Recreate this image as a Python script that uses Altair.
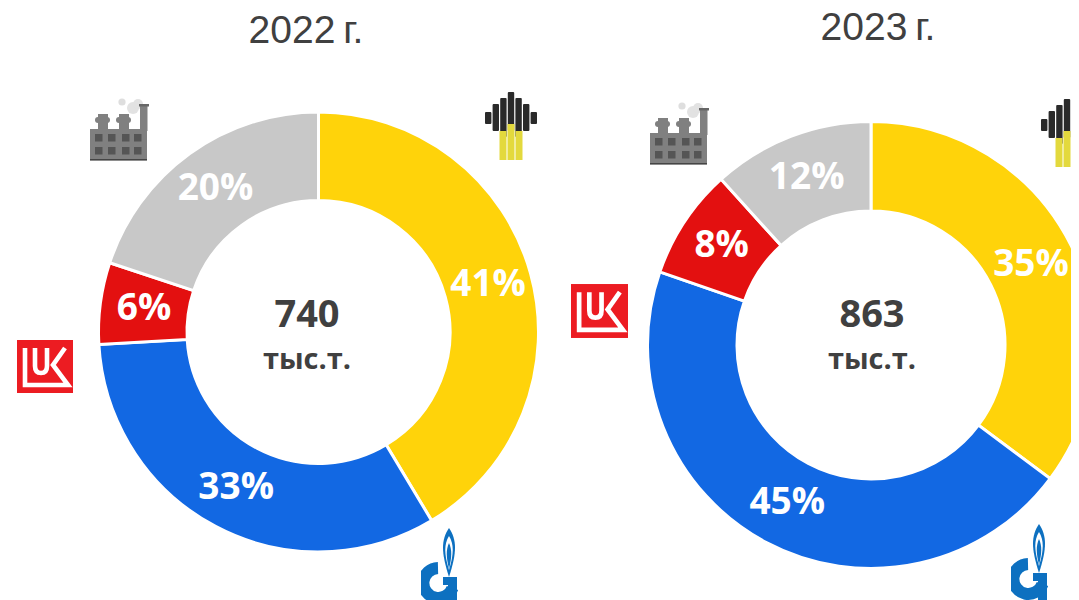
import base64
import math
import altair as alt
import pandas as pd

producers = ["Роснефть", "Газпром", "Лукойл", "Прочие"]
colors = ["#FFD30A", "#1268E3", "#E31010", "#C8C8C8"]
order = [1, 2, 3, 4]
shares_2022 = [41.4, 32.7, 6.0, 19.9]
labels_2022 = ["41%", "33%", "6%", "20%"]
shares_2023 = [35.2, 45.1, 8.0, 11.7]
labels_2023 = ["35%", "45%", "8%", "12%"]

OFF = 8
TEXT = "#404040"
FONT = "Open Sans"


def svg_uri(w, h, body):
    svg = (f'<svg xmlns="http://www.w3.org/2000/svg" width="{w}" height="{h}" viewBox="0 0 {w} {h}">'
           '<defs><filter id="b" x="-5%" y="-5%" width="110%" height="110%"><feGaussianBlur stdDeviation="0.5"/></filter></defs>'
           f'<g filter="url(#b)">{body}</g></svg>')
    return "data:image/svg+xml;base64," + base64.b64encode(svg.encode()).decode()


factory_body = (
    '<circle cx="34" cy="7" r="3.6" fill="#dedede"/><circle cx="45" cy="13" r="6" fill="#e2e2e2"/>'
    '<circle cx="50" cy="9" r="5" fill="#e2e2e2"/>'
    '<rect x="52" y="10" width="7.5" height="26" fill="#808080"/><rect x="51" y="9" width="10" height="2.5" fill="#666"/>'
    '<rect x="10" y="19" width="10" height="16" fill="#808080"/><rect x="7" y="22" width="15" height="6" rx="3" fill="#808080"/>'
    '<rect x="31" y="19" width="10" height="16" fill="#808080"/><rect x="28" y="22" width="15" height="6" rx="3" fill="#808080"/>'
    '<rect x="2" y="34" width="57" height="31" fill="#808080"/><rect x="2" y="64" width="57" height="1.6" fill="#444"/>'
    + "".join(f'<rect x="{x}" y="{y}" width="7.5" height="7.5" fill="#555"/>'
              for x in (7, 20, 34, 46) for y in (39, 52))
)
rosneft_body = (
    "".join(f'<rect x="{x}" y="{t}" width="6.4" height="{b - t}" rx="1" fill="#2a2a2a"/>'
            for x, t, b in [(0, 21, 33), (7.6, 13, 40), (15.2, 7, 46), (22.8, 1, 40), (30.4, 7, 46), (38, 13, 40), (45.6, 21, 33)])
    + "".join(f'<rect x="{x}" y="{t}" width="{w}" height="{69 - t}" fill="#E3D93C"/>'
              for x, t, w in [(14.5, 40, 7), (22.5, 33, 7), (30.5, 40, 7)])
)
luk_body = (
    '<rect width="56" height="53" fill="#EC1C24"/>'
    '<path d="M8 8V45H51L36 25L48 8M18 8V26Q18 33 24 33Q30 33 30 26V8" fill="none" stroke="#fff" stroke-width="4.6"/>'
)
gazprom_body = (
    '<path d="M33 2C25 14 25 26 33 51C41 26 41 14 33 2Z" fill="#0A6FC0"/>'
    '<path d="M33 10C28 18 28 28 33 44C38 28 38 18 33 10Z" fill="#fff"/>'
    '<path d="M33 17C30 24 30 30 33 43C36 30 36 24 33 17Z" fill="#0A6FC0"/>'
    '<path d="M22 42A15 15 0 1 0 36.5 62" fill="none" stroke="#0A6FC0" stroke-width="12"/>'
    '<rect x="27" y="51" width="14" height="8" fill="#0A6FC0"/><rect x="32" y="51" width="9" height="29" fill="#0A6FC0"/>'
)
factory_uri = svg_uri(62, 67, factory_body)
rosneft_uri = svg_uri(52, 69, rosneft_body)
luk_uri = svg_uri(56, 53, luk_body)
gazprom_uri = svg_uri(44, 80, gazprom_body)


def table(shares, labels):
    return pd.DataFrame({"producer": producers, "share": shares, "label": labels, "order": order})


theta = alt.Theta("share:Q", stack=True,
                  scale=alt.Scale(domain=[0, 100], range=[0, 2 * math.pi]))
color = alt.Color("producer:N", legend=None,
                  scale=alt.Scale(domain=producers, range=colors))


def donut(shares, labels, cx, cy, r, r2, rlabel):
    df = table(shares, labels)
    arcs = alt.Chart(df).mark_arc(radius=r, radius2=r2, stroke="#ffffff", strokeWidth=3).encode(
        theta=theta, color=color, order=alt.Order("order:Q"),
        x=alt.value(cx - OFF), y=alt.value(cy - OFF))
    text = alt.Chart(df).mark_text(radius=rlabel, font=FONT, fontWeight="bold", fontSize=37,
                                   color="#ffffff", align="center", baseline="middle").encode(
        theta=theta, text="label:N", order=alt.Order("order:Q"),
        x=alt.value(cx - OFF), y=alt.value(cy - OFF))
    return [arcs, text]


def caption(s, x, y, size, font=FONT, weight="bold"):
    return alt.Chart(pd.DataFrame({"t": [s]})).mark_text(
        font=font, fontSize=size, fontWeight=weight, color=TEXT, align="center", baseline="middle"
    ).encode(text="t:N", x=alt.value(x - OFF), y=alt.value(y - OFF))


def icon(uri, x, y, w, h):
    return alt.Chart(pd.DataFrame({"i": [0]})).mark_image(
        url=uri, width=w, height=h, align="left", baseline="top"
    ).encode(x=alt.value(x - OFF), y=alt.value(y - OFF))


layers = []
layers += donut(shares_2022, labels_2022, 318.5, 332, 220, 131.5, 176)
layers += donut(shares_2023, labels_2023, 871, 345, 223.5, 134, 179)
layers += [
    caption("740", 307, 316, 38),
    caption("тыс.т.", 307, 360, 29),
    caption("863", 872, 316, 38),
    caption("тыс.т.", 872, 360, 29),
    caption("2022\u2009г.", 306, 31, 39, "Liberation Sans", "normal"),
    caption("2023\u2009г.", 878, 28, 39, "Liberation Sans", "normal"),
    icon(factory_uri, 88, 95, 62, 67),
    icon(rosneft_uri, 485, 91, 52, 69),
    icon(luk_uri, 17, 340, 56, 53),
    icon(gazprom_uri, 416, 526, 44, 80),
    icon(factory_uri, 648, 99, 62, 67),
    icon(rosneft_uri, 1041, 98, 52, 69),
    icon(luk_uri, 571, 284, 57, 54),
    icon(gazprom_uri, 1006, 522, 44, 80),
]

chart = alt.layer(*layers).properties(
    width=1063, height=592, padding=0, autosize=alt.AutoSizeParams(type="none"),
).configure_view(strokeWidth=0)

chart.save("out.html", embed_options={"renderer": "svg", "actions": False})
